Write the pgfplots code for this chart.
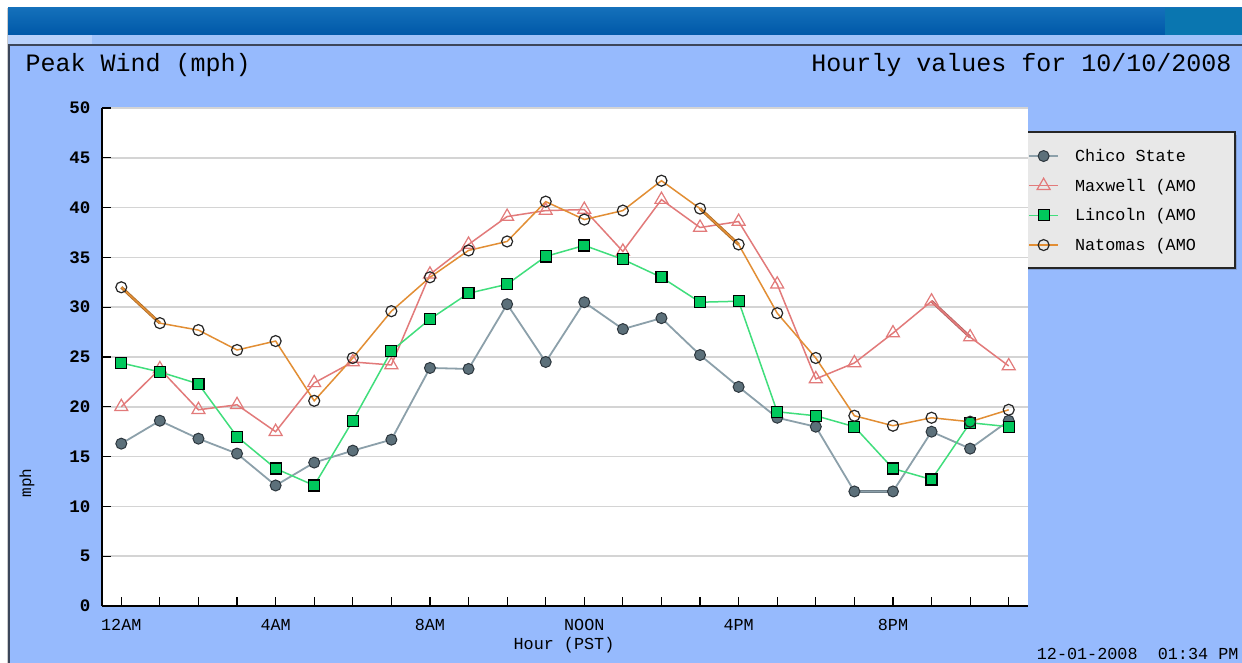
\documentclass[border=0pt]{standalone}
\usepackage{pgfplots}
\pgfplotsset{compat=1.18}
\usepackage{fontspec}
\setmainfont{Liberation Mono}
\definecolor{bgblue}{RGB}{150,186,253}
\definecolor{stripblue}{RGB}{160,194,250}
\definecolor{bandtop}{RGB}{20,112,186}
\definecolor{bandbot}{RGB}{0,88,168}
\definecolor{bandright}{RGB}{10,118,176}
\definecolor{darkline}{RGB}{60,70,90}
\definecolor{legfill}{RGB}{232,232,232}
\definecolor{chicoline}{RGB}{140,160,170}
\definecolor{chicofill}{RGB}{92,112,122}
\definecolor{chicodraw}{RGB}{45,55,62}
\definecolor{maxred}{RGB}{226,122,122}
\definecolor{linline}{RGB}{64,222,124}
\definecolor{linfill}{RGB}{0,200,92}
\definecolor{natline}{RGB}{226,142,52}
\definecolor{gridgray}{RGB}{212,212,212}
\pgfplotstableread{
h chico maxwell lincoln natomas
0 16.3 20.0 24.4 32.0
1 18.6 23.8 23.5 28.4
2 16.8 19.7 22.3 27.7
3 15.3 20.2 17.0 25.7
4 12.1 17.5 13.8 26.6
5 14.4 22.4 12.1 20.6
6 15.6 24.5 18.6 24.9
7 16.7 24.2 25.6 29.6
8 23.9 33.3 28.8 33.0
9 23.8 36.3 31.4 35.7
10 30.3 39.1 32.3 36.6
11 24.5 39.7 35.1 40.6
12 30.5 39.8 36.2 38.8
13 27.8 35.6 34.8 39.7
14 28.9 40.8 33.0 42.7
15 25.2 38.0 30.5 39.9
16 22.0 38.6 30.6 36.3
17 18.9 32.3 19.5 29.4
18 18.0 22.8 19.1 24.9
19 11.5 24.4 18.0 19.1
20 11.5 27.4 13.8 18.1
21 17.5 30.6 12.7 18.9
22 15.8 27.0 18.4 18.5
23 18.6 24.1 18.0 19.7
}\windtable
\begin{document}
\begin{tikzpicture}[x=1pt,y=1pt]
\useasboundingbox (0,0) rectangle (1242,663);
\fill[white] (0,0) rectangle (1242,663);
\fill[bgblue] (8,0) rectangle (1242,619);
\fill[stripblue] (8,619) rectangle (1242,628);
\fill[white!25!stripblue] (8,619) rectangle (92,628);
\shade[top color=bandtop, bottom color=bandbot] (8,628) rectangle (1242,655);
\fill[bandright] (1165,628) rectangle (1242,655);
\fill[darkline] (8,617) rectangle (1242,619);
\fill[darkline] (8,0) rectangle (9.5,619);
\fill[gray!40] (6.5,0) rectangle (8,655);
% legend box
\fill[bgblue!85!black] (1021,393) rectangle (1237,528);
\filldraw[fill=legfill, draw=black!85, line width=1.5pt] (1019,395) rectangle (1235,531);
\begin{axis}[
  at={(102pt,57pt)}, anchor=south west,
  width=926pt, height=498pt, scale only axis,
  xmin=-0.5, xmax=23.5, ymin=0, ymax=50,
  axis background/.style={fill=white},
  axis x line*=bottom, axis y line*=left,
  axis line style={black, line width=1.5pt, -},
  tick align=inside,
  major tick length=9pt,
  tick style={black, line width=1.2pt},
  xtick={0,...,23},
  xticklabels={12AM,,,,4AM,,,,8AM,,,,NOON,,,,4PM,,,,8PM,,,},
  ytick={0,5,...,50},
  ymajorgrids,
  grid style={gridgray, line width=1.5pt},
  /pgf/number format/assume math mode=true,
  yticklabel style={font=\bfseries\fontsize{17.5}{18}\selectfont, xshift=-8pt},
  xticklabel style={font=\fontsize{16.8}{18}\selectfont, yshift=-10pt},
  legend style={at={(axis description cs:0.9957,0.9297)}, anchor=north west,
    draw=none, fill=none, font=\fontsize{16.8}{18}\selectfont, row sep=12pt,
    column sep=14pt, inner sep=4pt},
  legend cell align=left,
  legend image code/.code={\draw[mark repeat=2,mark phase=2,#1] plot coordinates {(0pt,0pt) (14.5pt,0pt) (29pt,0pt)};},
  clip=false,
]
\addplot[forget plot, color=chicoline!70!black, line width=3pt] table[x=h, y=chico] {
h chico
19 11.5
20 11.5
};
\addplot[color=chicoline, line width=1.8pt, mark=*, mark size=5.5pt,
  mark options={fill=chicofill, draw=chicodraw, line width=1pt}] table[x=h, y=chico] {\windtable};
\addlegendentry{Chico State}
\addplot[forget plot, color=maxred!80!black, line width=3pt] table[x=h, y=maxwell] {
h maxwell
21 30.6
22 27.0
};
\addplot[color=maxred, line width=1.5pt, mark=triangle, mark size=7.5pt,
  mark options={fill=white, draw=maxred, line width=1.2pt}] table[x=h, y=maxwell] {\windtable};
\addlegendentry{Maxwell (AMO}
\addplot[color=linline, line width=1.5pt, mark=square*, mark size=5.5pt,
  mark options={fill=linfill, draw=black, line width=1.2pt}] table[x=h, y=lincoln] {\windtable};
\addlegendentry{Lincoln (AMO}
\addplot[forget plot, color=natline!75!black, line width=3pt] table[x=h, y=natomas] {
h natomas
0 32.0
1 28.4
};
\addplot[forget plot, color=natline!75!black, line width=3pt] table[x=h, y=natomas] {
h natomas
15 39.9
16 36.3
};
\addplot[color=natline, line width=1.5pt, mark=o, mark size=5.5pt,
  mark options={fill=white, draw=black!85, line width=1.2pt}] table[x=h, y=natomas] {\windtable};
\addlegendentry{Natomas (AMO}
\end{axis}
\node[anchor=west, font=\fontsize{25}{26}\selectfont] at (22,598) {Peak Wind (mph)};
\node[anchor=east, font=\fontsize{25}{26}\selectfont] at (1235,598) {Hourly values for 10/10/2008};
\node[font=\fontsize{16.8}{18}\selectfont] at (564,18) {Hour (PST)};
\node[rotate=90, font=\fontsize{16}{17}\selectfont] at (27,180) {mph};
\node[anchor=east, font=\fontsize{16.8}{18}\selectfont] at (1242,9) {12-01-2008~~01:34~PM};
\end{tikzpicture}
\end{document}
